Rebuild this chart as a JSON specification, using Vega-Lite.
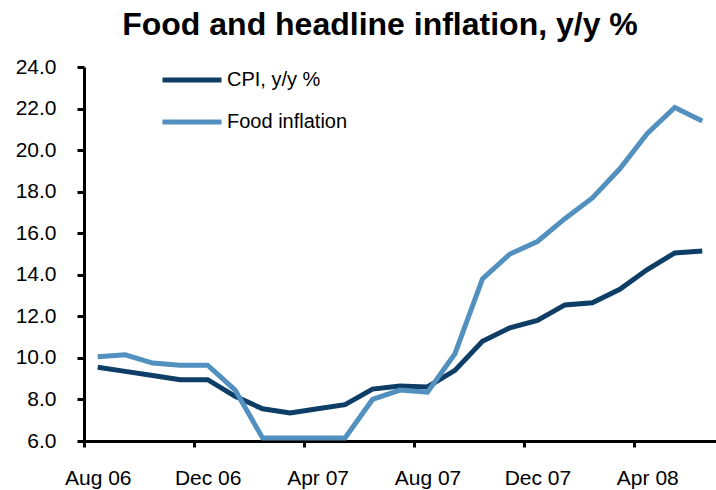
{
  "$schema": "https://vega.github.io/schema/vega-lite/v6.json",
  "width": 632,
  "height": 374,
  "autosize": {"type": "none"},
  "padding": {"left": 84, "top": 67, "right": 0, "bottom": 49},
  "background": "white",
  "view": {"stroke": null},
  "title": {
    "text": "Food and headline inflation, y/y %",
    "font": "Liberation Sans",
    "fontSize": 32,
    "fontWeight": "bold",
    "color": "black",
    "anchor": "middle",
    "baseline": "bottom",
    "offset": -26,
    "dx": -20
  },
  "data": {
    "values": [
      {"month": "Aug 06", "series": "CPI, y/y %", "value": 9.55},
      {"month": "Sep 06", "series": "CPI, y/y %", "value": 9.35},
      {"month": "Oct 06", "series": "CPI, y/y %", "value": 9.15},
      {"month": "Nov 06", "series": "CPI, y/y %", "value": 8.95},
      {"month": "Dec 06", "series": "CPI, y/y %", "value": 8.95},
      {"month": "Jan 07", "series": "CPI, y/y %", "value": 8.15},
      {"month": "Feb 07", "series": "CPI, y/y %", "value": 7.55},
      {"month": "Mar 07", "series": "CPI, y/y %", "value": 7.35},
      {"month": "Apr 07", "series": "CPI, y/y %", "value": 7.55},
      {"month": "May 07", "series": "CPI, y/y %", "value": 7.75},
      {"month": "Jun 07", "series": "CPI, y/y %", "value": 8.5},
      {"month": "Jul 07", "series": "CPI, y/y %", "value": 8.65},
      {"month": "Aug 07", "series": "CPI, y/y %", "value": 8.6},
      {"month": "Sep 07", "series": "CPI, y/y %", "value": 9.4},
      {"month": "Oct 07", "series": "CPI, y/y %", "value": 10.8},
      {"month": "Nov 07", "series": "CPI, y/y %", "value": 11.45},
      {"month": "Dec 07", "series": "CPI, y/y %", "value": 11.8},
      {"month": "Jan 08", "series": "CPI, y/y %", "value": 12.55},
      {"month": "Feb 08", "series": "CPI, y/y %", "value": 12.65},
      {"month": "Mar 08", "series": "CPI, y/y %", "value": 13.3},
      {"month": "Apr 08", "series": "CPI, y/y %", "value": 14.25},
      {"month": "May 08", "series": "CPI, y/y %", "value": 15.05},
      {"month": "Jun 08", "series": "CPI, y/y %", "value": 15.15},
      {"month": "Aug 06", "series": "Food inflation", "value": 10.05},
      {"month": "Sep 06", "series": "Food inflation", "value": 10.15},
      {"month": "Oct 06", "series": "Food inflation", "value": 9.75},
      {"month": "Nov 06", "series": "Food inflation", "value": 9.65},
      {"month": "Dec 06", "series": "Food inflation", "value": 9.65},
      {"month": "Jan 07", "series": "Food inflation", "value": 8.45},
      {"month": "Feb 07", "series": "Food inflation", "value": 6.15},
      {"month": "Mar 07", "series": "Food inflation", "value": 6.15},
      {"month": "Apr 07", "series": "Food inflation", "value": 6.15},
      {"month": "May 07", "series": "Food inflation", "value": 6.15},
      {"month": "Jun 07", "series": "Food inflation", "value": 8.0},
      {"month": "Jul 07", "series": "Food inflation", "value": 8.45},
      {"month": "Aug 07", "series": "Food inflation", "value": 8.35},
      {"month": "Sep 07", "series": "Food inflation", "value": 10.2},
      {"month": "Oct 07", "series": "Food inflation", "value": 13.8},
      {"month": "Nov 07", "series": "Food inflation", "value": 15.0},
      {"month": "Dec 07", "series": "Food inflation", "value": 15.6},
      {"month": "Jan 08", "series": "Food inflation", "value": 16.7},
      {"month": "Feb 08", "series": "Food inflation", "value": 17.7},
      {"month": "Mar 08", "series": "Food inflation", "value": 19.1},
      {"month": "Apr 08", "series": "Food inflation", "value": 20.8},
      {"month": "May 08", "series": "Food inflation", "value": 22.05},
      {"month": "Jun 08", "series": "Food inflation", "value": 21.4}
    ]
  },
  "mark": {"type": "line", "strokeWidth": 5, "strokeJoin": "miter"},
  "encoding": {
    "x": {
      "field": "month",
      "type": "ordinal",
      "scale": {
        "type": "point",
        "padding": 0.5,
        "domain": ["Aug 06","Sep 06","Oct 06","Nov 06","Dec 06","Jan 07","Feb 07","Mar 07","Apr 07","May 07","Jun 07","Jul 07","Aug 07","Sep 07","Oct 07","Nov 07","Dec 07","Jan 08","Feb 08","Mar 08","Apr 08","May 08","Jun 08"]
      },
      "axis": {
        "title": null,
        "values": ["Aug 06","Dec 06","Apr 07","Aug 07","Dec 07","Apr 08"],
        "labelAngle": 0,
        "labelFont": "Liberation Sans",
        "labelFontSize": 21,
        "labelColor": "black",
        "labelPadding": 20,
        "tickOffset": -13.74,
        "labelOffset": 13.74,
        "tickSize": 6,
        "tickWidth": 3,
        "tickColor": "black",
        "domainColor": "black",
        "domainWidth": 3,
        "grid": false
      }
    },
    "y": {
      "field": "value",
      "type": "quantitative",
      "scale": {"domain": [6, 24], "nice": false, "zero": false},
      "axis": {
        "title": null,
        "values": [6, 8, 10, 12, 14, 16, 18, 20, 22, 24],
        "format": ".1f",
        "labelFont": "Liberation Sans",
        "labelFontSize": 21,
        "labelColor": "black",
        "labelPadding": 21,
        "tickSize": 7,
        "tickWidth": 3,
        "tickColor": "black",
        "domainColor": "black",
        "domainWidth": 3,
        "grid": false
      }
    },
    "color": {
      "field": "series",
      "type": "nominal",
      "scale": {"domain": ["CPI, y/y %", "Food inflation"], "range": ["#0e3e66", "#5290bf"]},
      "legend": {
        "title": null,
        "orient": "none",
        "legendX": 76,
        "legendY": -19,
        "symbolType": "stroke",
        "symbolSize": 3481,
        "symbolStrokeWidth": 5,
        "labelFont": "Liberation Sans",
        "labelFontSize": 20,
        "labelColor": "black",
        "labelOffset": 3,
        "rowPadding": -17
      }
    }
  }
}
